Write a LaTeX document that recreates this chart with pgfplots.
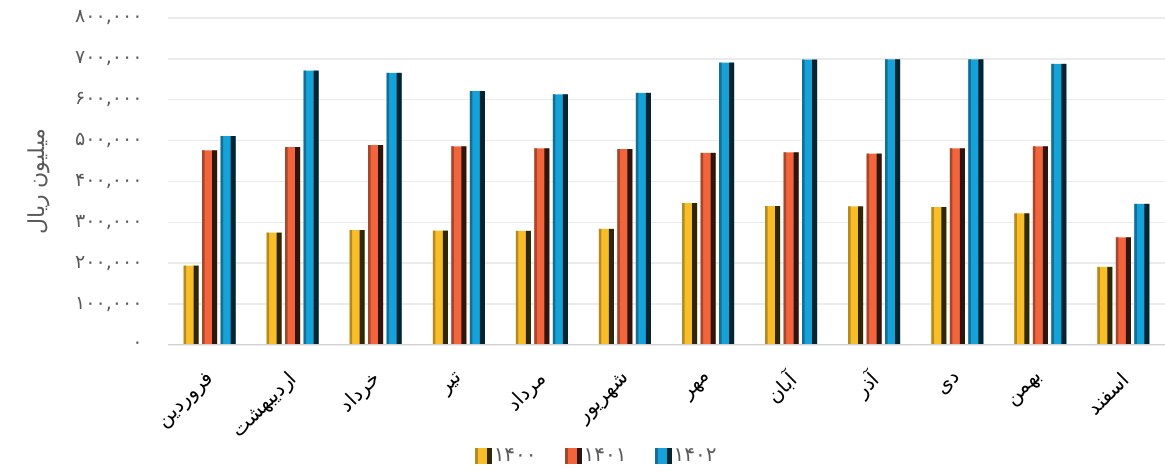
\documentclass[border=0pt]{standalone}
\usepackage{fontspec}
\usepackage{pgfplots}
\usepackage{pgfplotstable}
\pgfplotsset{compat=1.18}
\TeXXeTstate=1
\newfontfamily\pf[Script=Arabic]{DejaVu Sans}
\definecolor{ymain}{HTML}{F7BE2A}
\definecolor{yleft}{HTML}{B78A1E}
\definecolor{ydark}{HTML}{2F270C}
\definecolor{rmain}{HTML}{F1643C}
\definecolor{rleft}{HTML}{A8462B}
\definecolor{rdark}{HTML}{2E1610}
\definecolor{bmain}{HTML}{15A2D8}
\definecolor{bleft}{HTML}{136F96}
\definecolor{bdark}{HTML}{06232E}
\definecolor{txtgray}{HTML}{595959}
\definecolor{gridc}{HTML}{EBEBEB}
\definecolor{basec}{HTML}{D4D4D4}
\pgfplotstableread{
m y0 y1 y2
0 194000 476000 511000
1 275000 484000 671000
2 281000 489000 666000
3 280000 486000 621000
4 279000 481000 613000
5 284000 479000 617000
6 347000 470000 691000
7 340000 471000 698000
8 339000 468000 699000
9 337000 481000 699000
10 322000 486000 688000
11 191000 263000 345000
}\data
\begin{document}
\begin{tikzpicture}
\begin{axis}[
  name=ax,
  scale only axis,
  width=997pt, height=327pt,
  xmin=-0.5, xmax=11.5,
  ymin=0, ymax=800000,
  scaled y ticks=false,
  axis line style={draw=none},
  major tick length=0pt,
  ymajorgrids,
  grid style={line width=1.5pt, color=gridc},
  ytick={0,100000,200000,300000,400000,500000,600000,700000,800000},
  yticklabels={{۰},{۱۰۰,۰۰۰},{۲۰۰,۰۰۰},{۳۰۰,۰۰۰},{۴۰۰,۰۰۰},{۵۰۰,۰۰۰},{۶۰۰,۰۰۰},{۷۰۰,۰۰۰},{۸۰۰,۰۰۰}},
  yticklabel style={font=\pf\fontsize{19}{22}\selectfont, text=txtgray, xshift=-22pt},
  xtick={0,...,11},
  xticklabels={
    {\beginR فروردین\endR},
    {\beginR اردیبهشت\endR},
    {\beginR خرداد\endR},
    {\beginR تیر\endR},
    {\beginR مرداد\endR},
    {\beginR شهریور\endR},
    {\beginR مهر\endR},
    {\beginR آبان\endR},
    {\beginR آذر\endR},
    {\beginR دی\endR},
    {\beginR بهمن\endR},
    {\beginR اسفند\endR}},
  xticklabel style={font=\pf\fontsize{20}{22}\selectfont, text=black, yshift=-29pt, xshift=4pt, rotate=45, anchor=east},
  ylabel={\beginR میلیون ریال\endR},
  ylabel style={font=\pf\fontsize{22}{26}\selectfont, text=txtgray, at={(axis description cs:-0.13,0.5)}, anchor=center},
  legend style={at={(axis description cs:0.43,-0.34)}, anchor=center, legend columns=3, draw=none, fill=none,
    font=\pf\fontsize{20}{22}\selectfont, text=txtgray,
    /tikz/every even column/.append style={column sep=26pt}},
]
% series 1400
\addplot[ybar, bar width=15pt, bar shift=-18.5pt, draw=none, fill=ymain,
  legend image code/.code={\fill[ymain] (0pt,-8pt) rectangle (17pt,8pt); \fill[yleft] (0pt,-8pt) rectangle (3pt,8pt); \fill[ydark] (12pt,-8pt) rectangle (17pt,8pt);}]
  table[x=m, y=y0]{\data};
\addlegendentry{۱۴۰۰}
\addplot[ybar, forget plot, bar width=2.5pt, bar shift=-24.75pt, draw=none, fill=yleft] table[x=m, y=y0]{\data};
\addplot[ybar, forget plot, bar width=5pt, bar shift=-13.5pt, draw=none, fill=ydark] table[x=m, y=y0]{\data};
% series 1401
\addplot[ybar, bar width=15pt, bar shift=0pt, draw=none, fill=rmain,
  legend image code/.code={\fill[rmain] (0pt,-8pt) rectangle (17pt,8pt); \fill[rleft] (0pt,-8pt) rectangle (3pt,8pt); \fill[rdark] (12pt,-8pt) rectangle (17pt,8pt);}]
  table[x=m, y=y1]{\data};
\addlegendentry{۱۴۰۱}
\addplot[ybar, forget plot, bar width=2.5pt, bar shift=-6.25pt, draw=none, fill=rleft] table[x=m, y=y1]{\data};
\addplot[ybar, forget plot, bar width=5pt, bar shift=5pt, draw=none, fill=rdark] table[x=m, y=y1]{\data};
% series 1402
\addplot[ybar, bar width=15pt, bar shift=18.5pt, draw=none, fill=bmain,
  legend image code/.code={\fill[bmain] (0pt,-8pt) rectangle (17pt,8pt); \fill[bleft] (0pt,-8pt) rectangle (3pt,8pt); \fill[bdark] (12pt,-8pt) rectangle (17pt,8pt);}]
  table[x=m, y=y2]{\data};
\addlegendentry{۱۴۰۲}
\addplot[ybar, forget plot, bar width=2.5pt, bar shift=12.25pt, draw=none, fill=bleft] table[x=m, y=y2]{\data};
\addplot[ybar, forget plot, bar width=5pt, bar shift=23.5pt, draw=none, fill=bdark] table[x=m, y=y2]{\data};
\draw[color=basec, line width=2pt] (axis cs:-0.5,0) -- (axis cs:11.5,0);
\end{axis}
\pgfresetboundingbox
\path ([xshift=-168pt,yshift=-131pt]ax.south west) rectangle ([yshift=18pt]ax.north east);
\end{tikzpicture}
\end{document}
